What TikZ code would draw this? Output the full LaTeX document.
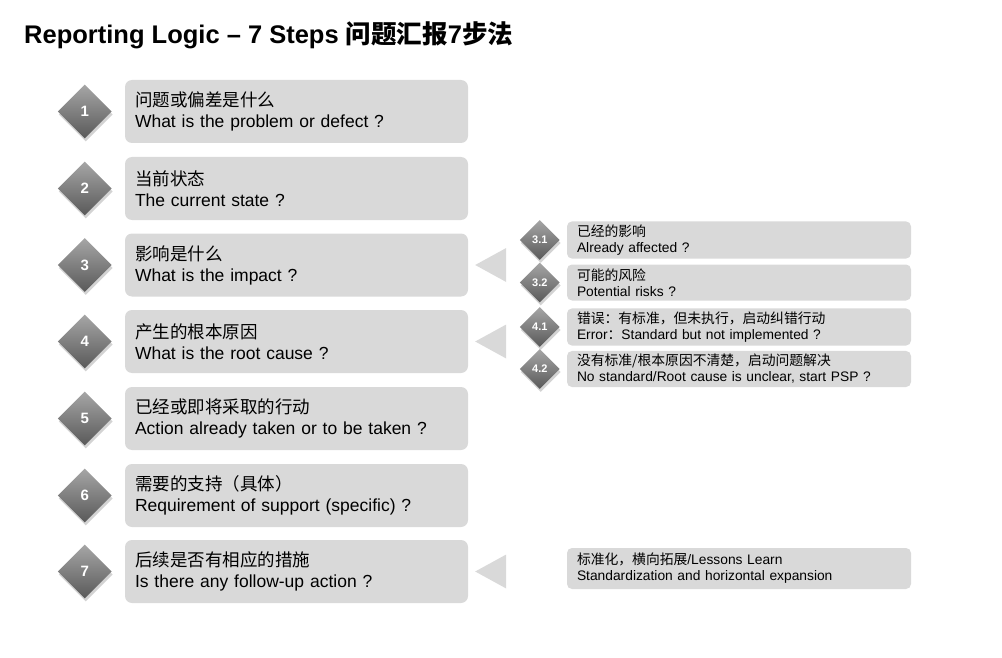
\documentclass[tikz,border=0pt]{standalone}
\usepackage{fontspec}
\setmainfont{Liberation Sans}
\newfontfamily\cjk{Noto Sans CJK SC}
\usetikzlibrary{calc,shapes.geometric,shadows,positioning}

\begin{document}
\begin{tikzpicture}[x=1pt,y=-1pt]
	\tikzset{stepbox/.style={shape=rectangle, rounded corners=7pt, fill=black!15, minimum width=343pt, minimum height=63pt, align=left, text width=323pt, font=\fontsize{17.5}{21}\selectfont}}
	\tikzset{subbox/.style={shape=rectangle, rounded corners=5pt, fill=black!15, minimum width=344pt, minimum height=36pt, align=left, text width=324pt, font=\fontsize{13.8}{16}\selectfont}}
	\tikzset{gem/.style={shape=diamond, minimum width=54pt, minimum height=54pt, inner sep=0pt, top color=black!35, bottom color=black!65, draw=none, text=white, font=\bfseries\fontsize{15}{15}\selectfont, drop shadow={shadow xshift=1pt, shadow yshift=-3pt, opacity=0.35}}}
	\tikzset{smallgem/.style={gem, minimum width=40pt, minimum height=40pt, font=\bfseries\fontsize{11}{11}\selectfont}}
	\tikzset{pointer/.style={fill=black!15, draw=none}}
	\useasboundingbox (0,0) rectangle (1002,658);
	\node[anchor=base west, inner sep=0pt, font=\bfseries\fontsize{25.5}{26}\selectfont] (title) at (24,44) {Reporting Logic -- 7 Steps {\cjk 问题汇报}7{\cjk 步法}};
	% main steps
	\node[stepbox] (s1) at (296.5,111.5) {{\cjk 问题或偏差是什么}\\What is the problem or defect ?};
	\node[stepbox] (s2) at (296.5,188.5) {{\cjk 当前状态}\\The current state ?};
	\node[stepbox] (s3) at (296.5,265) {{\cjk 影响是什么}\\What is the impact ?};
	\node[stepbox] (s4) at (296.5,341.5) {{\cjk 产生的根本原因}\\What is the root cause ?};
	\node[stepbox] (s5) at (296.5,418.5) {{\cjk 已经或即将采取的行动}\\Action already taken or to be taken ?};
	\node[stepbox] (s6) at (296.5,495.5) {{\cjk 需要的支持（具体）}\\Requirement of support (specific) ?};
	\node[stepbox] (s7) at (296.5,571.5) {{\cjk 后续是否有相应的措施}\\Is there any follow-up action ?};
	\foreach \i in {1,...,7}
		\node[gem] (g\i) at ($(s\i.west)+(-40,0)$) {\i};
	% details
	\node[subbox] (d31) at (739,240) {{\cjk 已经的影响}\\Already affected ?};
	\node[subbox] (d32) at (739,282.5) {{\cjk 可能的风险}\\Potential risks ?};
	\node[subbox] (d41) at (739,327) {{\cjk 错误：有标准，但未执行，启动纠错行动}\\Error{\cjk ：}Standard but not implemented ?};
	\node[subbox] (d42) at (739,369) {{\cjk 没有标准/根本原因不清楚，启动问题解决}\\No standard/Root cause is unclear, start PSP ?};
	\node[subbox, minimum height=41pt] (d7) at (739,568.5) {{\cjk 标准化，横向拓展}/Lessons Learn\\Standardization and horizontal expansion};
	\foreach \n/\t in {d31/3.1,d32/3.2,d41/4.1,d42/4.2}
		\node[smallgem] (g\n) at ($(\n.west)+(-27,0)$) {\t};
	% pointers
	\foreach \n in {s3,s4,s7}
		\fill[pointer] ($(\n.east)+(38,-17)$) -- ($(\n.east)+(7,0)$) -- ($(\n.east)+(38,17)$) -- cycle;
\end{tikzpicture}
\end{document}
